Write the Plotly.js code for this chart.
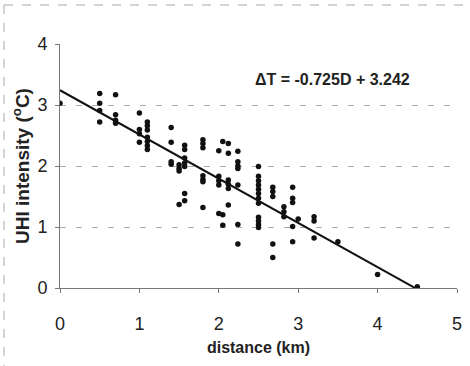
<!DOCTYPE html>
<html>
<head>
<meta charset="utf-8">
<script src="https://cdn.plot.ly/plotly-3.0.1.min.js"></script>
<style>html,body{margin:0;padding:0;background:#fff;}#chart{width:470px;height:366px;}</style>
</head>
<body>
<div id="chart"></div>
<script>
// distance (km) groups and observed UHI intensity (°C)
const distGroups = [0, 0.5, 0.7, 1.0, 1.1, 1.4, 1.5, 1.57, 1.8, 2.0, 2.05, 2.12, 2.24, 2.5, 2.68, 2.82, 2.93, 3.0, 3.2, 3.5, 4.0, 4.5];
const uhiGroups = [
  [3.03],
  [3.19, 3.03, 2.91, 2.72],
  [3.17, 2.84, 2.75, 2.70],
  [2.87, 2.60, 2.53, 2.39],
  [2.72, 2.66, 2.59, 2.47, 2.40, 2.33, 2.27],
  [2.63, 2.39, 2.07, 2.03],
  [2.02, 1.96, 1.92, 1.37],
  [2.34, 2.27, 2.13, 2.05, 1.99, 1.55, 1.43],
  [2.43, 2.37, 2.30, 1.84, 1.78, 1.74, 1.32],
  [2.25, 1.83, 1.76, 1.69, 1.22],
  [2.40, 1.20, 1.03],
  [2.37, 2.21, 1.77, 1.70, 1.63, 1.36],
  [2.24, 2.07, 2.00, 1.96, 1.69, 1.04, 0.72],
  [1.99, 1.83, 1.76, 1.69, 1.62, 1.55, 1.47, 1.39, 1.16, 1.10, 1.04, 0.99],
  [1.65, 1.58, 1.50, 0.72, 0.50],
  [1.33, 1.25, 1.17],
  [1.65, 1.47, 1.40, 1.01, 0.76],
  [1.13],
  [1.17, 1.10, 0.82],
  [0.76],
  [0.22],
  [0.02]
];
// regression: dT = slope * D + intercept
const slope = -0.725;
const intercept = 3.242;
const fitRange = [0, 4.5];
const xTicks = [0, 1, 2, 3, 4, 5];
const yTicks = [0, 1, 2, 3, 4];

const xs = [], ys = [];
distGroups.forEach((d, i) => uhiGroups[i].forEach(v => { xs.push(d); ys.push(v); }));

const font = 'Liberation Sans, Arial, sans-serif';
const traces = [
  {x: xs, y: ys, type: 'scatter', mode: 'markers',
   marker: {color: '#111', size: 5.5}, hoverinfo: 'x+y'},
  {x: fitRange, y: fitRange.map(d => slope * d + intercept), type: 'scatter', mode: 'lines',
   line: {color: '#111', width: 2}}
];

const layout = {
  width: 470, height: 366,
  margin: {l: 60, r: 13, t: 44, b: 78},
  paper_bgcolor: '#fff', plot_bgcolor: '#fff',
  showlegend: false,
  font: {family: font, color: '#222'},
  xaxis: {
    range: [0, 5], tickvals: xTicks, ticktext: xTicks.map(String),
    showgrid: false, zeroline: false,
    showline: true, linecolor: '#777', linewidth: 1,
    ticks: 'outside', ticklen: 4, tickcolor: '#777',
    tickfont: {size: 18, family: font, color: '#222'},
    ticklabelstandoff: 15,
    title: {text: '<b>distance (km)</b>', font: {size: 16, family: font, color: '#222'}, standoff: 9}
  },
  yaxis: {
    range: [0, 4], tickvals: yTicks, ticktext: yTicks.map(String),
    showgrid: true, gridcolor: '#aaa', griddash: '6px,10px', gridwidth: 1,
    zeroline: false,
    showline: true, linecolor: '#777', linewidth: 1,
    ticks: 'outside', ticklen: 4, tickcolor: '#777',
    tickfont: {size: 18, family: font, color: '#222'},
    ticklabelstandoff: 4,
    title: {text: '<b>UHI intensity (<sup>o</sup>C)</b>', font: {size: 19, family: font, color: '#222'}, standoff: 2}
  },
  annotations: [{
    x: 3.43, y: 3.41, xref: 'x', yref: 'y', showarrow: false,
    text: '<b>ΔT = -0.725D + 3.242</b>',
    font: {size: 16, family: font, color: '#222'}
  }],
  shapes: [
    {type: 'line', xref: 'paper', yref: 'paper', x0: -0.141, x1: 1.023, y0: 1.16, y1: 1.16,
     line: {color: '#aaa', width: 1, dash: 'dash'}},
    {type: 'line', xref: 'paper', yref: 'paper', x0: -0.141, x1: -0.141, y0: 1.16, y1: -0.32,
     line: {color: '#aaa', width: 1, dash: 'dash'}}
  ]
};

Plotly.newPlot('chart', traces, layout, {displayModeBar: false, staticPlot: true});
</script>
</body>
</html>
